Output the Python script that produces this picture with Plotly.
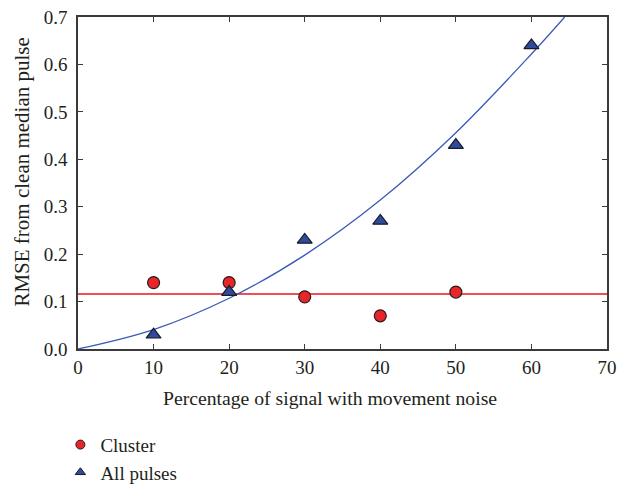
import plotly.graph_objects as go

# Data
pct = [10, 20, 30, 40, 50]
cluster_rmse = [0.14, 0.14, 0.11, 0.07, 0.12]
pct_all = [10, 20, 30, 40, 50, 60]
all_rmse = [0.03, 0.12, 0.23, 0.27, 0.43, 0.64]
# fitted curve for "All pulses"
fit_x = [0, 10, 20, 30, 40, 50, 60, 64.4]
fit_y = [0, 0.041, 0.107, 0.198, 0.314, 0.456, 0.622, 0.70]
cluster_mean = sum(cluster_rmse) / len(cluster_rmse)
x_range = [0, 70]
y_range = [0, 0.7]

FONT = "Liberation Serif"
TXT = "#231f20"
RED = "#e8262a"
BLUE = "#2f4b9c"
LINEBLUE = "#3a5ab8"

fig = go.Figure()
fig.add_trace(go.Scatter(x=x_range, y=[cluster_mean, cluster_mean], mode="lines",
                         line=dict(color="#e8141b", width=1.4), showlegend=False, hoverinfo="skip"))
fig.add_trace(go.Scatter(x=fit_x, y=fit_y, mode="lines", line_shape="spline",
                         line=dict(color=LINEBLUE, width=1.3), showlegend=False, hoverinfo="skip"))
fig.add_trace(go.Scatter(x=pct, y=cluster_rmse, mode="markers", showlegend=False,
                         marker=dict(symbol="circle", size=12, color=RED,
                                     line=dict(color="#2a1a1a", width=1.2))))
fig.add_trace(go.Scatter(x=pct_all, y=all_rmse, mode="markers", showlegend=False,
                         marker=dict(symbol="triangle-up", size=13, color=BLUE,
                                     line=dict(color="#1a1a2a", width=1.2))))
# legend entries
fig.add_trace(go.Scatter(x=[None], y=[None], mode="markers", name="Cluster", legendgroup="a",
                         marker=dict(symbol="circle", size=9, color=RED,
                                     line=dict(color="#2a1a1a", width=1))))
fig.add_trace(go.Scatter(x=[None], y=[None], mode="markers", name="All pulses", legendgroup="a",
                         marker=dict(symbol="triangle-up", size=9, color=BLUE,
                                     line=dict(color="#1a1a2a", width=1))))

axis_common = dict(showline=True, linecolor="#3a3a3a", linewidth=1.5, mirror="ticks",
                   ticks="inside", ticklen=5, tickwidth=1.2, tickcolor="#3a3a3a",
                   showgrid=False, zeroline=False,
                   tickfont=dict(family=FONT, size=19, color=TXT))

fig.update_layout(
    width=627, height=486,
    margin=dict(l=78, r=20, t=17, b=137, autoexpand=False),
    paper_bgcolor="white", plot_bgcolor="white",
    font=dict(family=FONT, size=19, color=TXT),
    xaxis=dict(range=x_range, dtick=10, tick0=0, **axis_common),
    yaxis=dict(range=y_range, dtick=0.1, tick0=0, tickformat=".1f",
               ticklabelstandoff=5, **axis_common),
    legend=dict(x=0.0963, xref="container", y=0.124, yref="container", yanchor="top",
                xanchor="left", font=dict(family=FONT, size=19, color=TXT),
                tracegroupgap=0, bgcolor="rgba(0,0,0,0)"),
    annotations=[
        dict(text="RMSE from clean median pulse", textangle=-90,
             xref="paper", yref="paper", x=-0.1067, y=0.533,
             xanchor="center", yanchor="middle", showarrow=False,
             font=dict(family=FONT, size=21, color=TXT)),
        dict(text="Percentage of signal with movement noise",
             xref="paper", yref="paper", x=0.476, y=-0.147,
             xanchor="center", yanchor="middle", showarrow=False,
             font=dict(family=FONT, size=19.7, color=TXT)),
    ],
)

fig.write_html("out.html")
